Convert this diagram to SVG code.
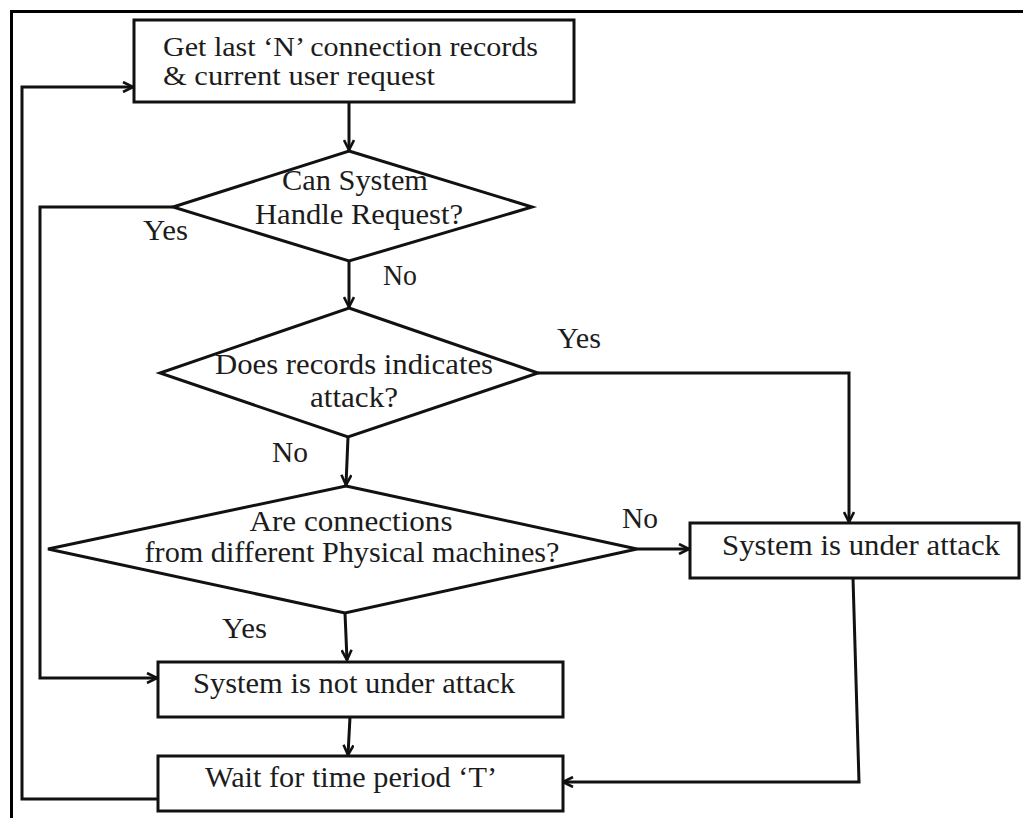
<svg xmlns="http://www.w3.org/2000/svg" width="1023" height="818" viewBox="0 0 1023 818">
  <defs>
    <marker id="arrow" viewBox="0 0 12 12" refX="11" refY="6" markerWidth="12" markerHeight="12" markerUnits="userSpaceOnUse" orient="auto">
      <path d="M1,1 L11,6 L1,11" fill="none" stroke="#111" stroke-width="2.6" stroke-linejoin="miter"/>
    </marker>
    <style>
      .shape { fill: #fff; stroke: #111; stroke-width: 3; }
      .edge { fill: none; stroke: #111; stroke-width: 3; }
      .frame { fill: none; stroke: #000; stroke-width: 3; }
      text { font-family: "Liberation Serif", "Times New Roman", serif; font-size: 30px; fill: #1c1c1c; }
      .mid { text-anchor: middle; }
      .tight { font-size: 27px; }
    </style>
  </defs>

  <rect x="0" y="0" width="1023" height="818" fill="#fff"/>

  <!-- page frame -->
  <path class="frame" d="M10,11.5 H1023 M11.5,10 V818"/>

  <!-- connectors -->
  <g id="connectors">
    <path class="edge" d="M349,102 V150" marker-end="url(#arrow)"/>
    <path class="edge" d="M349,261 V307" marker-end="url(#arrow)"/>
    <path class="edge" d="M348,437 L346,485" marker-end="url(#arrow)"/>
    <path class="edge" d="M345,613 L347,660" marker-end="url(#arrow)"/>
    <path class="edge" d="M350,717 L348,755" marker-end="url(#arrow)"/>
    <!-- yes: system can handle the request -->
    <path class="edge" d="M173,207 H40 V678 H157" marker-end="url(#arrow)"/>
    <!-- yes: records indicate attack -->
    <path class="edge" d="M538,373 H849 V522" marker-end="url(#arrow)"/>
    <!-- no: same physical machine -->
    <path class="edge" d="M637,549 H689" marker-end="url(#arrow)"/>
    <!-- under attack to wait -->
    <path class="edge" d="M853,578 L859,782 H563" marker-end="url(#arrow)"/>
    <!-- loop back to the start -->
    <path class="edge" d="M157,799 H22 V87 H133" marker-end="url(#arrow)"/>

    <text x="143" y="240" textLength="45" lengthAdjust="spacingAndGlyphs">Yes</text>
    <text x="383" y="285" textLength="34" lengthAdjust="spacingAndGlyphs">No</text>
    <text x="557" y="348" textLength="44" lengthAdjust="spacingAndGlyphs">Yes</text>
    <text x="272" y="462" textLength="36" lengthAdjust="spacingAndGlyphs">No</text>
    <text x="622" y="528" textLength="36" lengthAdjust="spacingAndGlyphs">No</text>
    <text x="222" y="638" textLength="45" lengthAdjust="spacingAndGlyphs">Yes</text>
  </g>

  <g id="get-records">
    <rect class="shape" x="134" y="20" width="440" height="82"/>
    <text x="163" y="56" class="tight" textLength="375" lengthAdjust="spacingAndGlyphs">Get last ‘N’ connection records</text>
    <text x="163" y="85" class="tight" textLength="272" lengthAdjust="spacingAndGlyphs">&amp; current user request</text>
  </g>

  <g id="can-handle">
    <polygon class="shape" points="349,151 532,207 349,261 173,207"/>
    <text x="355" y="190" class="mid" textLength="146" lengthAdjust="spacingAndGlyphs">Can System</text>
    <text x="359" y="224" class="mid" textLength="208" lengthAdjust="spacingAndGlyphs">Handle Request?</text>
  </g>

  <g id="records-attack">
    <polygon class="shape" points="349,308 538,373 348,437 160,373"/>
    <text x="354" y="374" class="mid" textLength="278" lengthAdjust="spacingAndGlyphs">Does records indicates</text>
    <text x="354" y="407" class="mid" textLength="88" lengthAdjust="spacingAndGlyphs">attack?</text>
  </g>

  <g id="different-machines">
    <polygon class="shape" points="346,486 637,549 345,613 48,549"/>
    <text x="351" y="531" class="mid" textLength="203" lengthAdjust="spacingAndGlyphs">Are connections</text>
    <text x="352" y="562" class="mid" textLength="415" lengthAdjust="spacingAndGlyphs">from different Physical machines?</text>
  </g>

  <g id="under-attack">
    <rect class="shape" x="690" y="523" width="329" height="55"/>
    <text x="722" y="555" textLength="278" lengthAdjust="spacingAndGlyphs">System is under attack</text>
  </g>

  <g id="not-under-attack">
    <rect class="shape" x="158" y="662" width="405" height="55"/>
    <text x="193" y="693" textLength="322" lengthAdjust="spacingAndGlyphs">System is not under attack</text>
  </g>

  <g id="wait-period">
    <rect class="shape" x="158" y="756" width="405" height="55"/>
    <text x="205" y="787" textLength="292" lengthAdjust="spacingAndGlyphs">Wait for time period ‘T’</text>
  </g>
</svg>
